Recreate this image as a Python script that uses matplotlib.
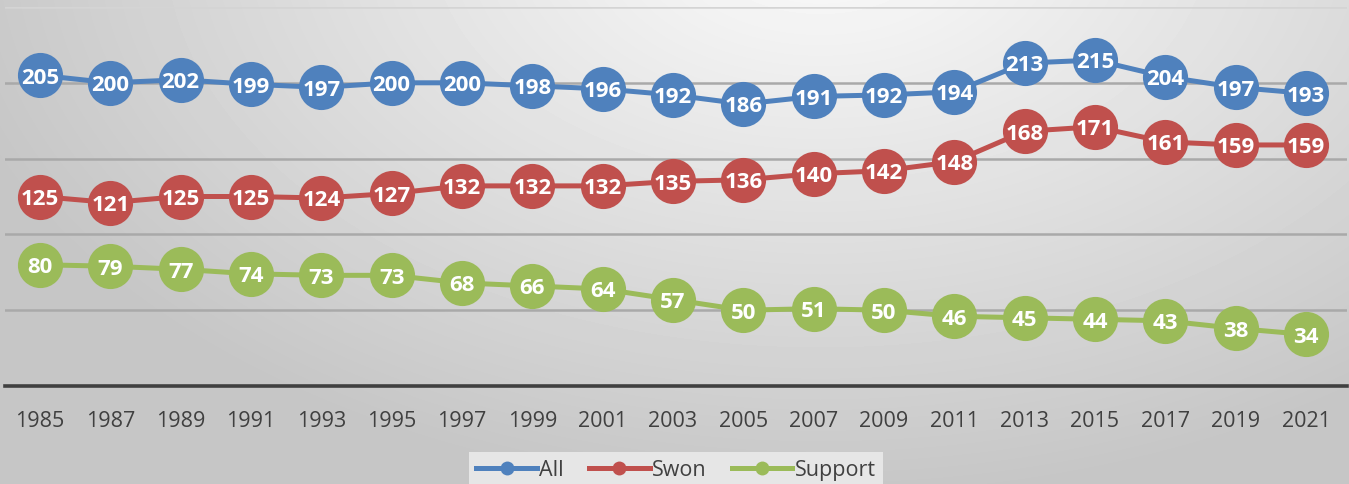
import matplotlib.pyplot as plt
import numpy as np

years = ['1985', '1987', '1989', '1991', '1993', '1995', '1997', '1999', '2001', '2003',
         '2005', '2007', '2009', '2011', '2013', '2015', '2017', '2019', '2021']
all_vals = [205, 200, 202, 199, 197, 200, 200, 198, 196, 192, 186, 191, 192, 194, 213, 215, 204, 197, 193]
swon_vals = [125, 121, 125, 125, 124, 127, 132, 132, 132, 135, 136, 140, 142, 148, 168, 171, 161, 159, 159]
support_vals = [80, 79, 77, 74, 73, 73, 68, 66, 64, 57, 50, 51, 50, 46, 45, 44, 43, 38, 34]

series = [('All', all_vals, '#4F81BD'),
          ('Swon', swon_vals, '#C0504D'),
          ('Support', support_vals, '#9BBB59')]

plt.rcParams['font.family'] = ['Open Sans', 'DejaVu Sans']

W, H = 1349, 485
fig = plt.figure(figsize=(W / 100, H / 100), dpi=100)

# radial gray background
bg = fig.add_axes([0, 0, 1, 1], zorder=-10)
yy, xx = np.mgrid[0:H, 0:W]
d = np.sqrt(((xx - 820) / 900.0) ** 2 + ((yy + 60) / 560.0) ** 2)
d = np.clip(d, 0, 1)
grey = 0.985 - d * (0.985 - 0.775)
bg.imshow(grey, cmap='gray', vmin=0, vmax=1, aspect='auto', extent=[0, 1, 0, 1])
bg.axis('off')

ax = fig.add_axes([5 / W, 1 - 387 / H, (1347 - 5) / W, (387 - 8) / H])
ax.patch.set_alpha(0)
x = np.arange(len(years))
px = 70.33
ax.set_xlim(-35 / px, 18 + 41 / px)
ax.set_ylim(0, 250)

for gy in [50, 100, 150, 200]:
    ax.axhline(gy, color='#a9a9a9', lw=1.8, zorder=1)
ax.axhline(250, color='#d4d4d4', lw=1.8, zorder=1)

for s in ['top', 'right', 'left']:
    ax.spines[s].set_visible(False)
ax.spines['bottom'].set_color('#404040')
ax.spines['bottom'].set_linewidth(2.6)

for name, vals, col in series:
    ax.plot(x, vals, color=col, lw=3.6, marker='o', markersize=32.5,
            markeredgewidth=0, label=name, zorder=3)
    for xi, v in zip(x, vals):
        ax.text(xi, v - 1.2, str(v), color='white', fontsize=16, fontweight='bold',
                ha='center', va='center', zorder=4)

ax.set_xticks(x)
ax.set_xticklabels(years, fontsize=15.5, color='#404040')
ax.tick_params(axis='x', length=0, pad=17)
ax.set_yticks([])

handles = [plt.Line2D([0], [0], color=c, lw=3.6, marker='o', markersize=10,
                      markeredgewidth=0) for _, _, c in series]
leg = fig.legend(handles, [n for n, _, _ in series], loc='center',
                 bbox_to_anchor=(676 / W, 1 - 471 / H), ncol=3, frameon=True,
                 fontsize=15.5, handlelength=2.8, handletextpad=0.1,
                 columnspacing=1.2, borderpad=0.35)
leg.get_frame().set_facecolor('#e6e6e6')
leg.get_frame().set_edgecolor('none')
leg.get_frame().set_alpha(1)
leg.get_frame().set_boxstyle('square', pad=0)
for t in leg.get_texts():
    t.set_color('#404040')

fig.savefig('out.png', dpi=100)
